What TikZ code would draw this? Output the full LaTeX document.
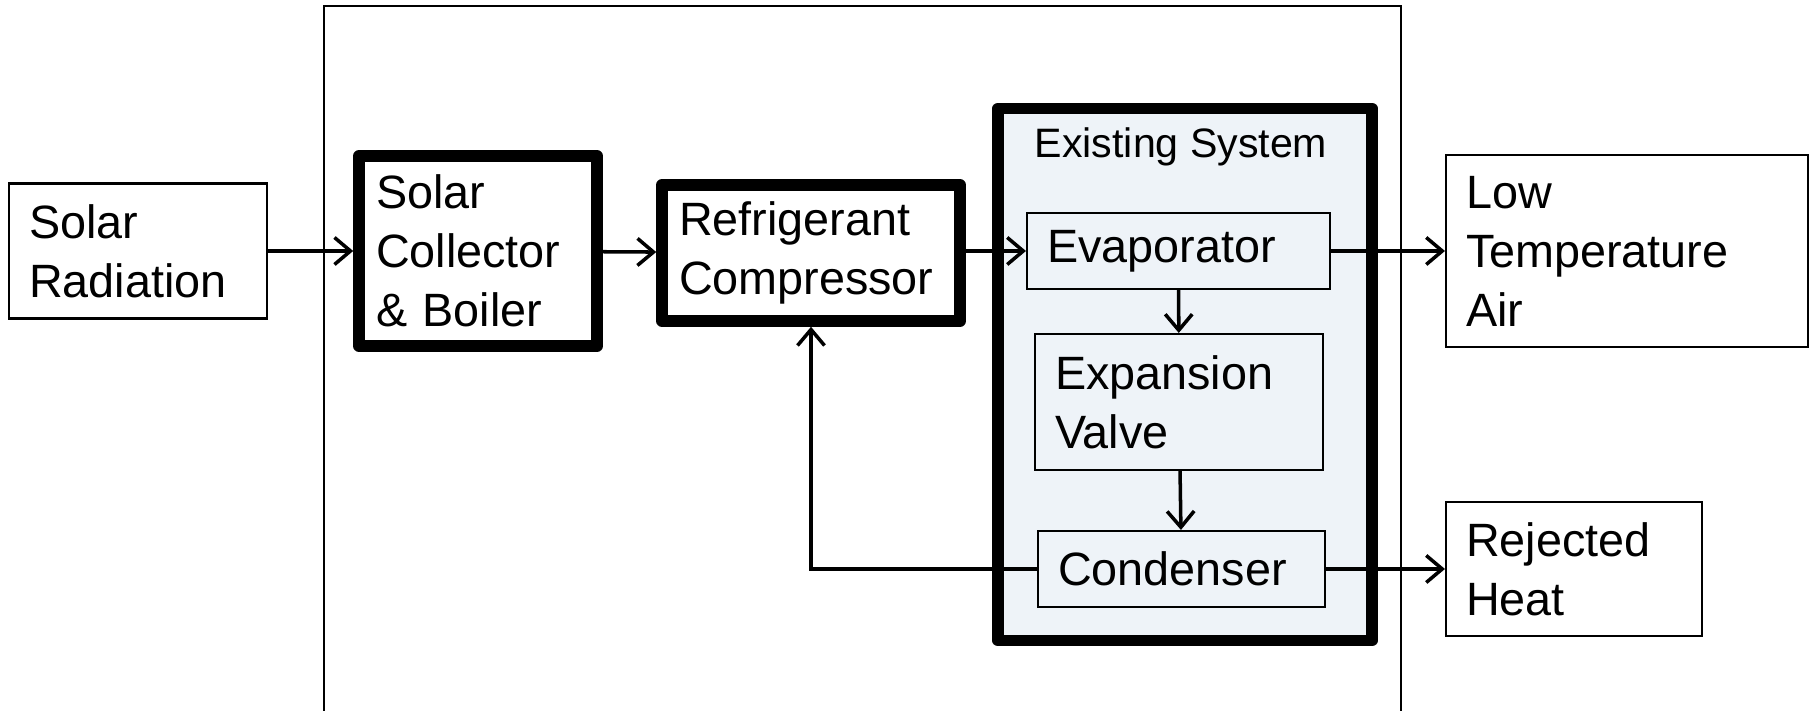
\documentclass[tikz,border=0pt]{standalone}
\usepackage{fontspec}
\setmainfont{Liberation Sans}
\usepackage{xcolor}
\definecolor{sysFill}{HTML}{EEF3F8}
\usetikzlibrary{arrows.meta}

\begin{document}
\begin{tikzpicture}[>={Straight Barb[length=1.6mm,width=2.7mm]},
  blk/.style={draw, line width=0.6pt, inner xsep=0.2cm, align=left,
    font=\fontsize{13.3}{16.8}\selectfont},
  heavy/.style={blk, line width=3.3pt, line join=round, inner xsep=0.17cm},
  flow/.style={->, line width=1pt}]
  \useasboundingbox (0,0) rectangle (18.14,7.11);
  % outer frame, open at the bottom
  \draw[line width=0.6pt] (3.24,-0.2) -- (3.24,7.05) -- (14.01,7.05) -- (14.01,-0.2);
  % solar side
  \node[blk, text width=2.18cm, minimum height=1.35cm] (sun) at (1.38,4.6) {Solar\\Radiation};
  \node[heavy, text width=2.04cm, minimum height=1.9cm] (coll) at (4.78,4.6) {Solar\\Collector\\\& Boiler};
  \node[heavy, text width=2.64cm, minimum height=1.36cm] (comp) at (8.11,4.58) {Refrigerant\\Compressor};
  % existing system
  \node[heavy, fill=sysFill, minimum width=3.74cm, minimum height=5.32cm] (exist) at (11.85,3.365) {};
  \node[font=\fontsize{11.7}{14}\selectfont] (existtitle) at (11.81,5.64) {Existing System};
  \node[blk, fill=sysFill, text width=2.63cm, minimum height=0.76cm] (evap) at (11.785,4.6) {Evaporator};
  \node[blk, fill=sysFill, text width=2.48cm, minimum height=1.36cm] (valve) at (11.79,3.09) {Expansion\\Valve};
  \node[blk, fill=sysFill, text width=2.47cm, minimum height=0.76cm] (cond) at (11.815,1.42) {Condenser};
  % outputs
  \node[blk, text width=3.22cm, minimum height=1.92cm] (lowair) at (16.27,4.6) {Low\\Temperature\\Air};
  \node[blk, text width=2.16cm, minimum height=1.34cm] (reject) at (15.74,1.42) {Rejected\\Heat};
  % connectors
  \draw[flow] (sun) -- (coll);
  \draw[flow] (coll) -- (comp);
  \draw[flow] (comp.east |- evap) -- (evap);
  \draw[flow] (evap) -- (lowair);
  \draw[flow] (evap) -- (valve);
  \draw[flow] (valve) -- (cond);
  \draw[flow] (cond) -- (reject);
  \draw[flow] (cond.west) -| (comp.south);
\end{tikzpicture}
\end{document}
